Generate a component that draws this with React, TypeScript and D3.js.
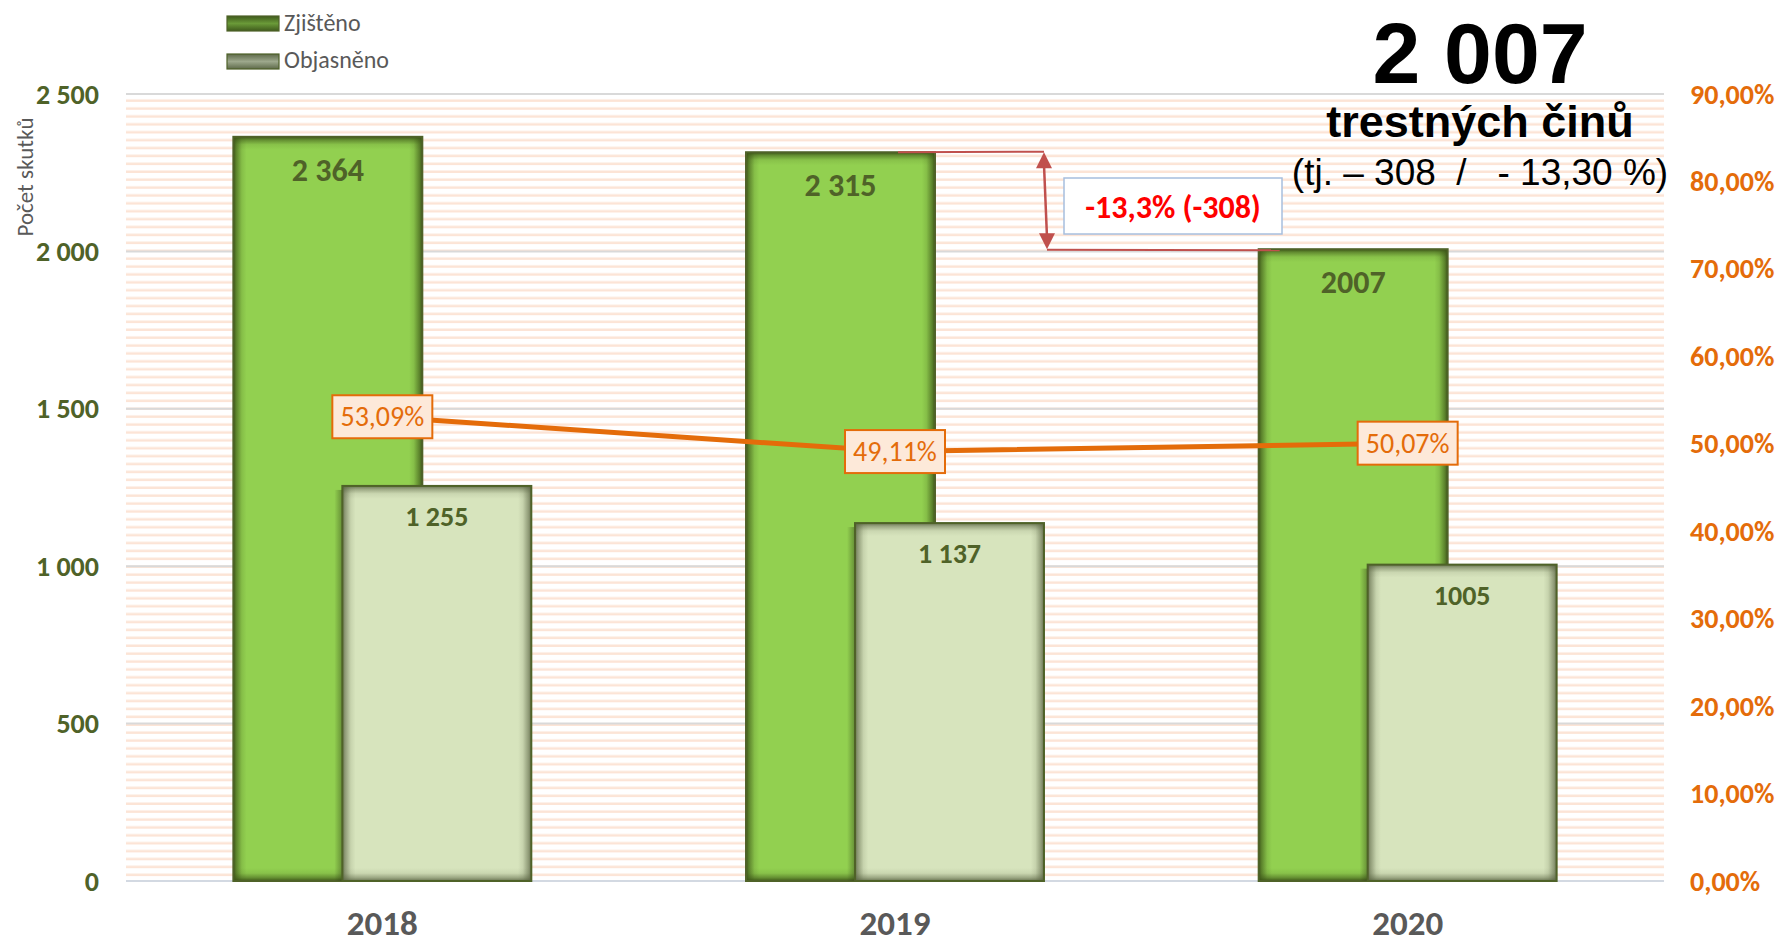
import React from 'react';
import * as d3 from 'd3';

const years = ['2018', '2019', '2020'];
const zjisteno = [2364, 2315, 2007];
const objasneno = [1255, 1137, 1005];
const zjistenoLabels = ['2 364', '2 315', '2007'];
const objasnenoLabels = ['1 255', '1 137', '1005'];
const podil = [53.09, 49.11, 50.07];
const podilLabels = ['53,09%', '49,11%', '50,07%'];
const leftTicks = [0, 500, 1000, 1500, 2000, 2500];
const leftTickLabels = ['0', '500', '1 000', '1 500', '2 000', '2 500'];
const rightTicks = [0, 10, 20, 30, 40, 50, 60, 70, 80, 90];
const rightTickLabels = ['0,00%', '10,00%', '20,00%', '30,00%', '40,00%', '50,00%', '60,00%', '70,00%', '80,00%', '90,00%'];
const legendNames = ['Zjištěno', 'Objasněno'];
const bigNumber = '2 007';
const subTitle = 'trestných činů';
const detail = '(tj. – 308  /   - 13,30 %)';
const diffLabel = '-13,3% (-308)';
const axisTitle = 'Počet skutků';

const W = 1783;
const H = 945;
const PL = 126, PR = 1664, PT = 94, PB = 881;
const CAL = 'Carlito, Calibri, Lato, "Open Sans", sans-serif';
const ARIAL = '"Liberation Sans", Arial, sans-serif';

function EdgeGradients({ id, color, o }: { id: string; color: string; o: number }) {
  return (
    <>
      <linearGradient id={`${id}H`} x1="0" x2="1" y1="0" y2="0">
        <stop offset="0" stopColor={color} stopOpacity={o} />
        <stop offset="0.015" stopColor={color} stopOpacity={o * 0.65} />
        <stop offset="0.045" stopColor={color} stopOpacity={o * 0.15} />
        <stop offset="0.07" stopColor={color} stopOpacity={0} />
        <stop offset="0.93" stopColor={color} stopOpacity={0} />
        <stop offset="0.955" stopColor={color} stopOpacity={o * 0.15} />
        <stop offset="0.985" stopColor={color} stopOpacity={o * 0.65} />
        <stop offset="1" stopColor={color} stopOpacity={o} />
      </linearGradient>
      <linearGradient id={`${id}T`} x1="0" x2="0" y1="0" y2="1">
        <stop offset="0" stopColor={color} stopOpacity={o} />
        <stop offset="0.25" stopColor={color} stopOpacity={o * 0.55} />
        <stop offset="0.6" stopColor={color} stopOpacity={o * 0.12} />
        <stop offset="1" stopColor={color} stopOpacity={0} />
      </linearGradient>
      <linearGradient id={`${id}B`} x1="0" x2="0" y1="1" y2="0">
        <stop offset="0" stopColor={color} stopOpacity={o} />
        <stop offset="0.25" stopColor={color} stopOpacity={o * 0.55} />
        <stop offset="0.6" stopColor={color} stopOpacity={o * 0.12} />
        <stop offset="1" stopColor={color} stopOpacity={0} />
      </linearGradient>
    </>
  );
}

function ShadedRect({ x, y, w, h, fill, id }: { x: number; y: number; w: number; h: number; fill: string; id: string }) {
  const e = Math.min(13, h / 2);
  return (
    <g>
      <rect x={x} y={y} width={w} height={h} fill={fill} />
      <rect x={x} y={y} width={w} height={h} fill={`url(#${id}H)`} />
      <rect x={x} y={y} width={w} height={e} fill={`url(#${id}T)`} />
      <rect x={x} y={y + h - e} width={w} height={e} fill={`url(#${id}B)`} />
    </g>
  );
}

export default function App() {
  const x = d3.scaleBand<string>().domain(years).range([PL, PR]).paddingInner(0).paddingOuter(0);
  const bw = x.bandwidth();
  const barW = bw * 0.3686;
  const off = bw * 0.1063;
  const y = d3.scaleLinear().domain([0, 2500]).range([PB, PT]);
  const y2 = d3.scaleLinear().domain([0, 90]).range([PB, PT]);
  const cx = (yr: string) => (x(yr) as number) + bw / 2;

  const line = d3.line<number>()
    .x((_, i) => cx(years[i]))
    .y((d) => y2(d));

  const g19Right = cx('2019') - off + barW / 2;
  const l19Right = cx('2019') + off + barW / 2;
  const g20Left = cx('2020') - off - barW / 2;
  const yTop = y(zjisteno[1]);
  const yBot = y(zjisteno[2]);
  const arrowX1 = l19Right;
  const arrowX2 = l19Right + 3;

  return (
    <svg width={W} height={H} style={{ position: 'absolute', left: 0, top: 0, background: '#fff' }}>
      <defs>
        <pattern id="stripes" patternUnits="userSpaceOnUse" x={0} y={PT} width={20} height={7.9}>
          <rect x={0} y={5.4} width={20} height={3} fill="#FCE4D6" />
        </pattern>
        <EdgeGradients id="gG" color="#3A5216" o={0.95} />
        <EdgeGradients id="gL" color="#56603F" o={0.85} />
        <linearGradient id="shadowL" x1="1" x2="0" y1="0" y2="0">
          <stop offset="0" stopColor="#2E3D14" stopOpacity={0.45} />
          <stop offset="1" stopColor="#2E3D14" stopOpacity={0} />
        </linearGradient>
        <linearGradient id="sw0" x1="0" x2="0" y1="0" y2="1">
          <stop offset="0" stopColor="#3F5A1C" />
          <stop offset="0.5" stopColor="#6A9A38" />
          <stop offset="1" stopColor="#3F5A1C" />
        </linearGradient>
        <linearGradient id="sw1" x1="0" x2="0" y1="0" y2="1">
          <stop offset="0" stopColor="#5E6A4A" />
          <stop offset="0.5" stopColor="#9DA88C" />
          <stop offset="1" stopColor="#5E6A4A" />
        </linearGradient>
      </defs>

      <rect x={PL} y={PT} width={PR - PL} height={PB - PT} fill="url(#stripes)" />

      {leftTicks.map((t) => (
        <line key={t} x1={PL} x2={PR} y1={y(t)} y2={y(t)} stroke={t === 0 ? '#D3D9E2' : '#D9D9D9'} strokeWidth={2} />
      ))}

      {leftTicks.map((t, i) => (
        <text key={t} x={99} y={y(t)} dy="0.34em" textAnchor="end" fontFamily={CAL} fontWeight={700} fontSize={28} fill="#4F6228">
          {leftTickLabels[i]}
        </text>
      ))}

      {rightTicks.map((t, i) => (
        <text key={t} x={1690} y={y2(t)} dy="0.34em" textAnchor="start" fontFamily={CAL} fontWeight={700} fontSize={28} fill="#E46C0A">
          {rightTickLabels[i]}
        </text>
      ))}

      <text transform={`translate(33,177) rotate(-90)`} textAnchor="middle" fontFamily={CAL} fontSize={23} fill="#595959">
        {axisTitle}
      </text>

      {years.map((yr, i) => {
        const gx = cx(yr) - off - barW / 2;
        const lx = cx(yr) + off - barW / 2;
        const gy = y(zjisteno[i]);
        const ly = y(objasneno[i]);
        return (
          <g key={yr}>
            <ShadedRect x={gx} y={gy} w={barW} h={PB - gy} fill="#92D050" id="gG" />
            <rect x={gx} y={gy} width={barW} height={PB - gy} fill="none" stroke="#4F6228" strokeWidth={2} />
            <text x={gx + barW / 2} y={gy + 44} textAnchor="middle" fontFamily={CAL} fontWeight={700} fontSize={32} fill="#4F6228">
              {zjistenoLabels[i]}
            </text>
            <rect x={lx - 8} y={ly + 4} width={8} height={PB - ly - 4} fill="url(#shadowL)" />
            <ShadedRect x={lx} y={ly} w={barW} h={PB - ly} fill="#D7E4BD" id="gL" />
            <rect x={lx} y={ly} width={barW} height={PB - ly} fill="none" stroke="#4F6228" strokeWidth={2} />
            <text x={lx + barW / 2} y={ly + 40} textAnchor="middle" fontFamily={CAL} fontWeight={700} fontSize={28} fill="#4F6228">
              {objasnenoLabels[i]}
            </text>
          </g>
        );
      })}

      <path d={line(podil) as string} fill="none" stroke="#E46C0A" strokeWidth={5} />
      {years.map((yr, i) => (
        <g key={yr}>
          <rect x={cx(yr) - 50} y={y2(podil[i]) - 21.5} width={100} height={43} fill="#FDE9D9" stroke="#E46C0A" strokeWidth={2} />
          <text x={cx(yr)} y={y2(podil[i])} dy="0.34em" textAnchor="middle" fontFamily={CAL} fontSize={28} fill="#E46C0A">
            {podilLabels[i]}
          </text>
        </g>
      ))}

      <line x1={g19Right - 37} x2={arrowX1} y1={yTop} y2={yTop - 0.5} stroke="#C0504D" strokeWidth={2} />
      <line x1={arrowX2} x2={g20Left + 21} y1={yBot + 0.5} y2={yBot + 1} stroke="#C0504D" strokeWidth={2} />
      <line x1={arrowX1} y1={yTop + 12} x2={arrowX2} y2={yBot - 12} stroke="#C0504D" strokeWidth={2.5} />
      <path d={`M${arrowX1},${yTop} L${arrowX1 - 8},${yTop + 16} L${arrowX1 + 8},${yTop + 16} Z`} fill="#C0504D" />
      <path d={`M${arrowX2},${yBot} L${arrowX2 - 8},${yBot - 16} L${arrowX2 + 8},${yBot - 16} Z`} fill="#C0504D" />
      <rect x={1064} y={178} width={218} height={56} fill="#fff" stroke="#A7BFDE" strokeWidth={1.5} />
      <text x={1173} y={218} textAnchor="middle" fontFamily={CAL} fontWeight={700} fontSize={32} fill="#FF0000">
        {diffLabel}
      </text>

      {years.map((yr) => (
        <text key={yr} x={cx(yr)} y={935} textAnchor="middle" fontFamily={CAL} fontWeight={700} fontSize={35} fill="#595959">
          {yr}
        </text>
      ))}

      {legendNames.map((n, i) => (
        <g key={n}>
          <rect x={227} y={16 + i * 38} width={52} height={15} fill={`url(#sw${i})`} stroke="#4F6228" strokeWidth={1.2} />
          <text x={284} y={31 + i * 37} fontFamily={CAL} fontSize={24} fill="#595959">
            {n}
          </text>
        </g>
      ))}

      <text x={1480} y={83} textAnchor="middle" fontFamily={ARIAL} fontWeight={700} fontSize={86} fill="#000">
        {bigNumber}
      </text>
      <text x={1480} y={137} textAnchor="middle" fontFamily={ARIAL} fontWeight={700} fontSize={45} fill="#000">
        {subTitle}
      </text>
      <text x={1480} y={185} textAnchor="middle" fontFamily={ARIAL} fontSize={37} fill="#000" style={{ whiteSpace: 'pre' }} xmlSpace="preserve">
        {detail}
      </text>
    </svg>
  );
}
